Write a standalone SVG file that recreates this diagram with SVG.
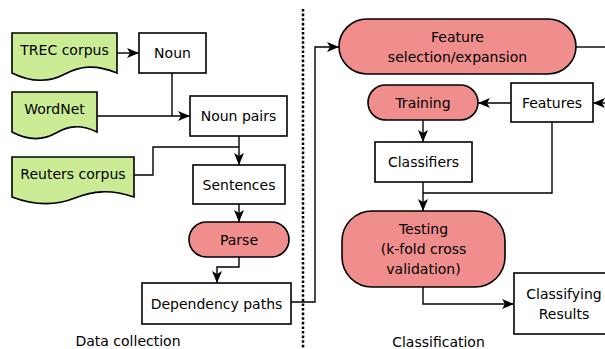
<svg xmlns="http://www.w3.org/2000/svg" width="605" height="349" viewBox="0 0 605 349">
  <defs>
    <style>
      .box { fill: #ffffff; stroke: #000000; stroke-width: 1.6; }
      .doc { fill: #cbeb95; stroke: #000000; stroke-width: 1.6; }
      .pill { fill: #f08e8e; stroke: #000000; stroke-width: 1.6; }
      .lbl { font-family: "DejaVu Sans", Verdana, sans-serif; font-size: 14px; fill: #000000; text-anchor: middle; }
      .edge { fill: none; stroke: #000000; stroke-width: 1.4; }
      .arrow { marker-end: url(#head); }
      .divider { fill: none; stroke: #000000; stroke-width: 2.5; stroke-dasharray: 2.6 2; }
    </style>
    <marker id="head" markerUnits="userSpaceOnUse" viewBox="0 0 12 10" refX="12" refY="5" markerWidth="12" markerHeight="10" orient="auto">
      <path d="M0,0 L12,5 L0,10 L3,5 Z" fill="#000000"/>
    </marker>
  </defs>

  <!-- section divider -->
  <line class="divider" x1="303" y1="9" x2="303" y2="349"/>

  <!-- connectors -->
  <g id="connectors">
    <path class="edge arrow" d="M117,53 H139"/>
    <path class="edge" d="M172,73 V116"/>
    <path class="edge arrow" d="M97,116 H190"/>
    <path class="edge arrow" d="M239,136 V165"/>
    <path class="edge" d="M134,175 H153 V147 H239"/>
    <path class="edge arrow" d="M239,204 V222"/>
    <path class="edge arrow" d="M239,257 V267 H217 V283"/>
    <path class="edge arrow" d="M291,302 H315 V47 H339"/>
    <path class="edge" d="M576,47 H606"/>
    <path class="edge arrow" d="M607,103 H593"/>
    <path class="edge arrow" d="M511,103 H478"/>
    <path class="edge arrow" d="M423,120 V142"/>
    <path class="edge" d="M552,122 V193 H423"/>
    <path class="edge arrow" d="M423,182 V211"/>
    <path class="edge arrow" d="M423,287 V304 H514"/>
  </g>

  <!-- data collection nodes -->
  <g id="trec">
    <path class="doc" d="M12,33 H117 V73 C95,64 80,66 65,74 C48,83 30,82 12,73 Z"/>
    <text class="lbl" x="64.5" y="55">TREC corpus</text>
  </g>
  <g id="noun">
    <rect class="box" x="139" y="33" width="67" height="40"/>
    <text class="lbl" x="172.5" y="58">Noun</text>
  </g>
  <g id="wordnet">
    <path class="doc" d="M12,92 H97 V132 C80,124 68,126 56,133 C42,141 27,140 12,132 Z"/>
    <text class="lbl" x="54.5" y="114">WordNet</text>
  </g>
  <g id="noun-pairs">
    <rect class="box" x="190" y="96" width="97" height="40"/>
    <text class="lbl" x="238.5" y="121">Noun pairs</text>
  </g>
  <g id="reuters">
    <path class="doc" d="M12,157 H134 V197 C110,189 93,191 75,198 C55,206 33,205 12,197 Z"/>
    <text class="lbl" x="73" y="179">Reuters corpus</text>
  </g>
  <g id="sentences">
    <rect class="box" x="193" y="165" width="92" height="39"/>
    <text class="lbl" x="239" y="189.5">Sentences</text>
  </g>
  <g id="parse">
    <rect class="pill" x="189" y="222" width="100" height="35" rx="17.5" ry="17.5"/>
    <text class="lbl" x="239" y="244.5">Parse</text>
  </g>
  <g id="dependency-paths">
    <rect class="box" x="142" y="283" width="149" height="41"/>
    <text class="lbl" x="216.5" y="308.5">Dependency paths</text>
  </g>
  <text class="lbl" x="128" y="346">Data collection</text>

  <!-- classification nodes -->
  <g id="feature-selection">
    <rect class="pill" x="339" y="19" width="237" height="55" rx="28" ry="27.5"/>
    <text class="lbl" x="457.5" y="42">Feature</text>
    <text class="lbl" x="457.5" y="62">selection/expansion</text>
  </g>
  <g id="training">
    <rect class="pill" x="368" y="85" width="110" height="35" rx="17.5" ry="17.5"/>
    <text class="lbl" x="423" y="108">Training</text>
  </g>
  <g id="features">
    <rect class="box" x="511" y="83" width="82" height="39"/>
    <text class="lbl" x="552" y="108">Features</text>
  </g>
  <g id="classifiers">
    <rect class="box" x="375" y="142" width="97" height="40"/>
    <text class="lbl" x="423.5" y="167">Classifiers</text>
  </g>
  <g id="testing">
    <rect class="pill" x="342" y="211" width="163" height="76" rx="30" ry="30"/>
    <text class="lbl" x="423.5" y="234">Testing</text>
    <text class="lbl" x="423.5" y="254">(k-fold cross</text>
    <text class="lbl" x="423.5" y="274">validation)</text>
  </g>
  <g id="classifying-results">
    <rect class="box" x="514" y="273" width="100" height="61"/>
    <text class="lbl" x="564" y="299">Classifying</text>
    <text class="lbl" x="564" y="319">Results</text>
  </g>
  <text class="lbl" x="438.5" y="347">Classification</text>
</svg>
